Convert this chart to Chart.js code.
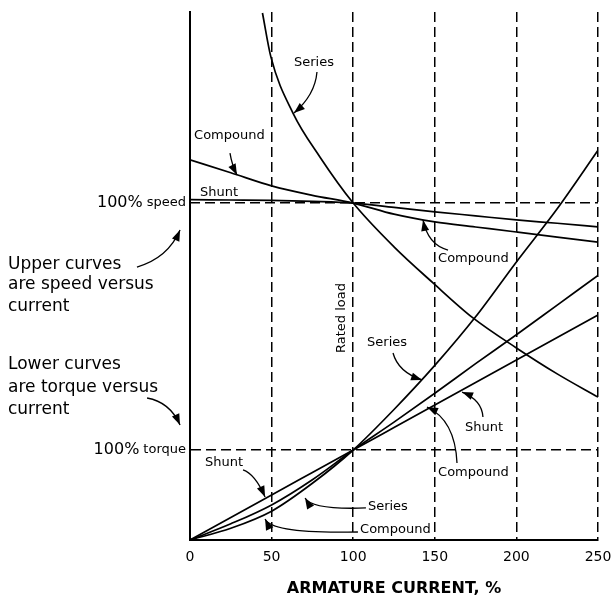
<!DOCTYPE html>
<html>
<head>
<meta charset="utf-8">
<script src="https://cdn.jsdelivr.net/npm/chart.js@4.4.1/dist/chart.umd.min.js"></script>
<style>
  body { margin: 0; background: #fff; }
  canvas { display: block; }
</style>
</head>
<body>
<canvas id="motorChart" width="613" height="602"></canvas>
<script>
// armature current, % of rated
const current = [0, 25, 50, 75, 100, 125, 150, 175, 200, 225, 250];

// torque, % of rated torque
const shuntTorque    = [0, 25, 50, 75, 100, 125, 150, 175, 200, 225, 250];
const compoundTorque = [0, 18, 39, 67, 100, 131, 163, 196, 228, 261, 294];
const seriesTorque   = [0, 13, 32, 63, 100, 145, 194, 248, 309, 368, 433];

// speed, % of rated speed
const shuntSpeed    = [101, 100.9, 100.8, 100.5, 100, 98.7, 97.4, 96.2, 95.0, 94.0, 92.9];
const compoundSpeed = [112.8, 109, 105.1, 102.3, 100, 96.7, 94.4, 92.9, 91.4, 89.9, 88.4];
// series speed runs off the top at light load, so it has its own current points
const seriesSpeedCurrent = [44.4, 49.6, 63.1, 79.7, 100, 125, 148.9, 173.4, 200, 225, 250];
const seriesSpeed        = [156.4, 143.3, 126.7, 113.6, 100, 87, 76.3, 65.9, 57, 49.3, 42.4];

const xTicks = [0, 50, 100, 150, 200, 250];
const TORQUE_MAX = 586.7;   // top of the plot in torque %
const SPEED_MAX = 156.7;    // top of the plot in speed %

const FONT = '"DejaVu Sans", sans-serif';

// curve labels, placed in (current %, torque %) units
const curveLabels = [
  { text: 'Series',   x: 63.7,  y: 530 },
  { text: 'Compound', x: 2.5,   y: 449 },
  { text: 'Shunt',    x: 6.1,   y: 385.6 },
  { text: 'Compound', x: 152,   y: 313 },
  { text: 'Series',   x: 108.5, y: 218.9 },
  { text: 'Shunt',    x: 168.5, y: 124.4 },
  { text: 'Compound', x: 152,   y: 74.4 },
  { text: 'Shunt',    x: 9.2,   y: 85.6 },
  { text: 'Series',   x: 109,   y: 36.7 },
  { text: 'Compound', x: 104.2, y: 11.1 }
];

// leader arrows: start, bend, tip (current %, torque %)
const arrows = [
  [77.8, 520, 76.6, 494.4, 63.7, 474.4],
  [24.5, 430, 25.7, 416.7, 28.8, 405.6],
  [-32.5, 303.3, -13.5, 313.3, -6.1, 344.4],
  [-26.3, 157.8, -12.3, 153.3, -6.1, 127.8],
  [158.1, 322.2, 145.8, 327.8, 142.8, 355.6],
  [124.4, 207.8, 127.5, 186.7, 142.2, 177.8],
  [179.5, 136.7, 178.9, 155.6, 166.7, 164.4],
  [163.6, 85.6, 162.4, 133.3, 145.2, 147.8],
  [32.5, 77.8, 39.8, 73.3, 46, 47.8],
  [107.8, 35.6, 74.8, 33.3, 70.5, 46.7],
  [102.9, 8.9, 50.2, 6.7, 46, 23.3]
];

const sideNotes = [
  { text: 'Upper curves',      y: 305.6 },
  { text: 'are speed versus',  y: 283.3 },
  { text: 'current',           y: 258.9 },
  { text: 'Lower curves',      y: 194.4 },
  { text: 'are torque versus', y: 168.9 },
  { text: 'current',           y: 144.4 }
];

function pts(xs, ys) {
  return xs.map((v, i) => ({ x: v, y: ys[i] }));
}

function line(label, data, axis) {
  return {
    label: label,
    data: data,
    yAxisID: axis,
    borderColor: '#000',
    borderWidth: 1.7,
    pointRadius: 0,
    fill: false,
    cubicInterpolationMode: 'monotone'
  };
}

function drawArrow(ctx, x0, y0, cx, cy, x1, y1) {
  ctx.beginPath();
  ctx.moveTo(x0, y0);
  ctx.quadraticCurveTo(cx, cy, x1, y1);
  ctx.lineWidth = 1.3;
  ctx.stroke();
  const a = Math.atan2(y1 - cy, x1 - cx);
  const len = 11, w = 4;
  ctx.beginPath();
  ctx.moveTo(x1, y1);
  ctx.lineTo(x1 - len * Math.cos(a) - w * Math.sin(a), y1 - len * Math.sin(a) + w * Math.cos(a));
  ctx.lineTo(x1 - len * Math.cos(a) + w * Math.sin(a), y1 - len * Math.sin(a) - w * Math.cos(a));
  ctx.closePath();
  ctx.fill();
}

const notes = {
  id: 'notes',
  afterDatasetsDraw(chart) {
    const { ctx, chartArea, scales: { x, yT, yS } } = chart;
    const X = v => x.getPixelForValue(v);
    const Y = v => yT.getPixelForValue(v);
    ctx.save();
    ctx.fillStyle = '#000';
    ctx.strokeStyle = '#000';
    ctx.textBaseline = 'middle';
    ctx.textAlign = 'left';

    ctx.font = '13px ' + FONT;
    curveLabels.forEach(l => ctx.fillText(l.text, X(l.x), Y(l.y)));

    arrows.forEach(a => drawArrow(ctx, X(a[0]), Y(a[1]), X(a[2]), Y(a[3]), X(a[4]), Y(a[5])));

    // rated load, written up the 100 % line
    ctx.save();
    ctx.translate(X(93.1), Y(246.7));
    ctx.rotate(-Math.PI / 2);
    ctx.textAlign = 'center';
    ctx.fillText('Rated load', 0, 0);
    ctx.restore();

    // notes in the left margin
    ctx.font = '17px ' + FONT;
    sideNotes.forEach(n => ctx.fillText(n.text, 8, Y(n.y)));

    // "100% speed" and "100% torque" at the y axis
    const right = chartArea.left - 4;
    [['speed', yS.getPixelForValue(100)], ['torque', Y(100)]].forEach(([word, py]) => {
      ctx.textAlign = 'right';
      ctx.font = '13px ' + FONT;
      ctx.fillText(word, right, py);
      const w = ctx.measureText(word).width;
      ctx.font = '16px ' + FONT;
      ctx.fillText('100%', right - w - 4, py);
    });
    ctx.restore();
  }
};

new Chart(document.getElementById('motorChart'), {
  type: 'line',
  data: {
    datasets: [
      line('Shunt speed', pts(current, shuntSpeed), 'yS'),
      line('Compound speed', pts(current, compoundSpeed), 'yS'),
      line('Series speed', pts(seriesSpeedCurrent, seriesSpeed), 'yS'),
      line('Shunt torque', pts(current, shuntTorque), 'yT'),
      line('Compound torque', pts(current, compoundTorque), 'yT'),
      line('Series torque', pts(current, seriesTorque), 'yT')
    ]
  },
  options: {
    responsive: false,
    animation: false,
    layout: { padding: { left: 190, right: 15, top: 12, bottom: 0 } },
    plugins: {
      legend: { display: false },
      tooltip: { enabled: false }
    },
    scales: {
      x: {
        type: 'linear',
        min: 0,
        max: 250,
        afterBuildTicks: s => { s.ticks = xTicks.map(v => ({ value: v })); },
        afterFit: s => { s.height = 62; s.paddingLeft = 0; s.paddingRight = 0; },
        ticks: { color: '#000', padding: 9, font: { family: FONT, size: 14 } },
        grid: {
          drawTicks: false,
          lineWidth: 1.5,
          color: c => (c.tick && c.tick.value === 0) ? 'rgba(0,0,0,0)' : '#000'
        },
        border: { display: true, color: '#000', width: 2, dash: [10, 5] },
        title: {
          display: true,
          text: 'ARMATURE CURRENT, %',
          color: '#000',
          font: { family: FONT, size: 16, weight: 'bold' },
          padding: { top: 0, bottom: 4 }
        }
      },
      yT: {
        type: 'linear',
        position: 'left',
        min: 0,
        max: TORQUE_MAX,
        afterBuildTicks: s => { s.ticks = [{ value: 100 }]; },
        afterFit: s => { s.width = 0; },
        ticks: { display: false },
        grid: { drawTicks: false, lineWidth: 1.5, color: '#000' },
        border: { display: true, color: '#000', width: 2, dash: [10, 5] }
      },
      yS: {
        type: 'linear',
        position: 'left',
        min: 0,
        max: SPEED_MAX,
        afterBuildTicks: s => { s.ticks = [{ value: 100 }]; },
        afterFit: s => { s.width = 0; },
        ticks: { display: false },
        grid: { drawTicks: false, lineWidth: 1.5, color: '#000' },
        border: { display: false, dash: [10, 5] }
      }
    }
  },
  plugins: [notes]
});
</script>
</body>
</html>
